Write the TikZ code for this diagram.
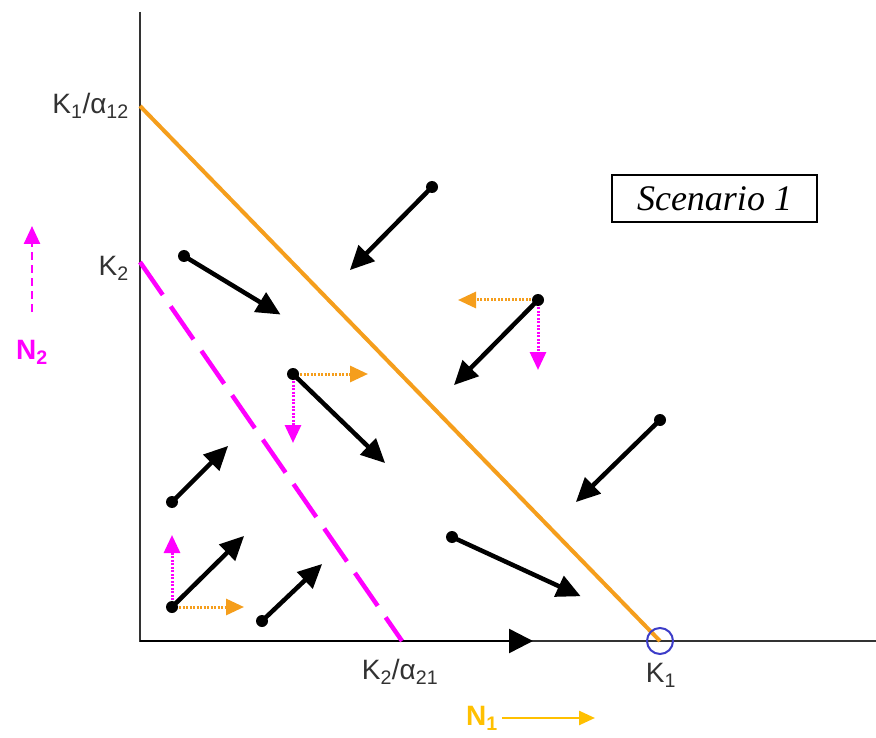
\documentclass[tikz,border=0pt]{standalone}
\usepackage{fontspec}
\setmainfont{Liberation Sans}
\newfontfamily\scfont{Liberation Serif}
\usetikzlibrary{arrows.meta}
\definecolor{orng}{RGB}{245,158,28}
\definecolor{ylw}{RGB}{255,192,0}
\definecolor{mgn}{RGB}{255,0,255}
\definecolor{lbl}{RGB}{50,50,50}
\definecolor{circ}{RGB}{60,60,200}
\tikzset{
  axisline/.style={line width=2.5pt,black!80},
  flow/.style={line width=4.5pt,black,-{Triangle[length=24pt,width=22pt]},shorten >=-3pt},
  dotpt/.style={circle,fill=black,inner sep=0pt,minimum size=12pt},
  hcomp/.style={orng,line width=3pt,dash pattern=on 2pt off 1.5pt,-{Triangle[length=18pt,width=16pt]}},
  vcomp/.style={mgn,line width=3pt,dash pattern=on 2pt off 1.5pt,-{Triangle[length=18pt,width=16pt]}},
  lab/.style={text=lbl,font=\fontsize{28}{30}\selectfont,inner sep=1pt},
}
\begin{document}
\begin{tikzpicture}[x=1pt,y=-1pt]
\useasboundingbox[fill=white] (0,0) rectangle (876,738);
% axes
\coordinate (O) at (140,641);
\coordinate (ytop) at (140,12);
\coordinate (xend) at (876,641);
\coordinate (xmid) at (533,641);
\draw[axisline] (ytop) -- (O) -- (xend);
\draw[line width=2.5pt,-{Triangle[length=24pt,width=24pt]}] (O) -- (xmid);
% isoclines
\coordinate (A) at (140,106);
\coordinate (K1) at (660,641);
\coordinate (B) at (140,262);
\coordinate (C) at (402,641);
\draw[orng,line width=4pt] (A) -- (K1);
\draw[mgn,line width=4.5pt,dash pattern=on 40pt off 14pt] (B) -- (C);
\node[draw=circ,circle,line width=2pt,minimum size=26pt,inner sep=0pt] (K1c) at (K1) {};
% labels
\node[lab,anchor=east] (l1) at (130,106) {K\textsubscript{1}/α\textsubscript{12}};
\node[lab,anchor=east] (l2) at (130,268) {K\textsubscript{2}};
\node[lab] (l3) at (400,672) {K\textsubscript{2}/α\textsubscript{21}};
\node[lab] (l4) at (661,675) {K\textsubscript{1}};
% axis names
\node[text=ylw,font=\bfseries\fontsize{28}{30}\selectfont] (n1) at (482,718) {N\textsubscript{1}};
\coordinate (n1a) at (502,718);
\coordinate (n1b) at (595,718);
\draw[ylw,line width=2.5pt,-{Triangle[length=16pt,width=14pt]}] (n1a) -- (n1b);
\node[text=mgn,font=\bfseries\fontsize{28}{30}\selectfont] (n2) at (32,352) {N\textsubscript{2}};
\coordinate (n2a) at (32,312);
\coordinate (n2b) at (32,226);
\draw[mgn,line width=2.5pt,dash pattern=on 8pt off 5pt,-{Triangle[length=18pt,width=16pt]}] (n2a) -- (n2b);
% scenario box
\node[draw,line width=2pt,minimum width=205pt,minimum height=47pt,inner sep=0pt,
      font=\scfont\itshape\fontsize{36}{38}\selectfont,text=black] (sc) at (714.5,198.5)
      {Scenario 1};
% start points
\foreach \n/\sx/\sy in {a/432/187, b/184/256, c/538/300, d/293/374, e/660/420,
  f/172/502, g/172/607, h/262/621, i/452/537}{
  \coordinate (s\n) at (\sx,\sy);
}
% components
\coordinate (ch) at (458,300);
\coordinate (cv) at (538,370);
\draw[hcomp] (sc) -- (ch);
\draw[vcomp] (sc) -- (cv);
\coordinate (dh) at (368,374);
\coordinate (dv) at (293,443);
\draw[hcomp] (sd) -- (dh);
\draw[vcomp] (sd) -- (dv);
\coordinate (gh) at (244,607);
\coordinate (gv) at (172,535);
\draw[hcomp] (sg) -- (gh);
\draw[vcomp] (sg) -- (gv);
% flow arrows
\foreach \n/\ex/\ey in {a/352/268, b/278/313, c/456/383, d/383/461, e/578/500,
  f/226/448, g/242/538, h/320/566, i/578/595}{
  \coordinate (e\n) at (\ex,\ey);
  \draw[flow] (s\n) -- (e\n);
  \node[dotpt] (p\n) at (s\n) {};
}
\end{tikzpicture}
\end{document}
